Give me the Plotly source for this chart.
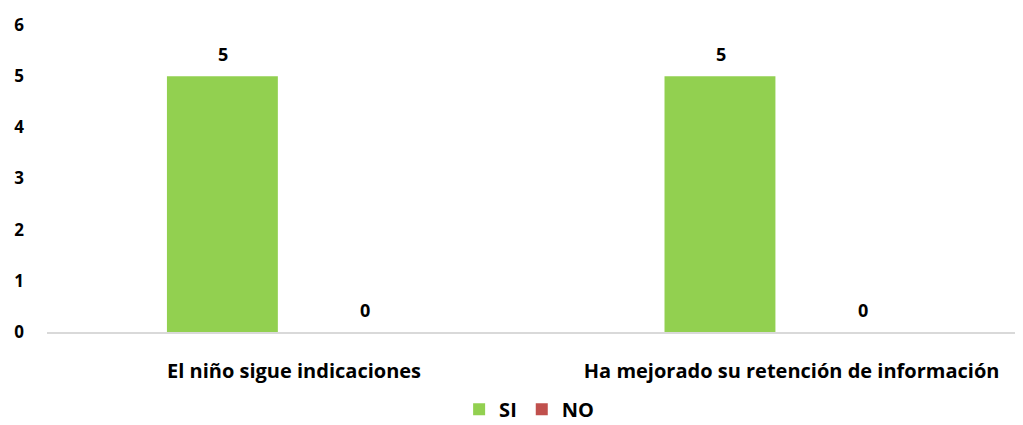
import plotly.graph_objects as go

categories = ["El niño sigue indicaciones", "Ha mejorado su retención de información"]
si_values = [5, 5]
no_values = [0, 0]
series_names = ["SI", "NO"]
colors = ["#92D050", "#C0504D"]
y_ticks = [0, 1, 2, 3, 4, 5, 6]

FONT = "Open Sans"

fig = go.Figure()
for name, vals, col in zip(series_names, [si_values, no_values], colors):
    fig.add_trace(go.Bar(name=name, x=categories, y=vals, marker_color=col,
                         marker_line_width=0))

# data labels
for i, cat in enumerate(categories):
    for vals, shift in [(si_values, -71), (no_values, 71)]:
        fig.add_annotation(x=cat, y=vals[i], xref="x", yref="y", text=str(vals[i]),
                           showarrow=False, xshift=shift, yshift=22,
                           font=dict(family=FONT, size=18, color="#000000", weight="bold"))

# page body has an 8px margin, so the figure is sized/offset to fit the 1023x425 window
fig.update_layout(
    width=1015, height=417,
    margin=dict(l=39, r=3, t=17, b=93, autoexpand=False),
    paper_bgcolor="white", plot_bgcolor="white",
    barmode="group", bargap=0.424, bargroupgap=0.226,
    font=dict(family=FONT, size=18, color="#000000", weight="bold"),
    showlegend=True,
    legend=dict(orientation="h", x=0.4955, xanchor="center", yref="paper",
                y=-0.252, yanchor="middle", font=dict(family=FONT, size=20, weight="bold"),
                itemwidth=30, tracegroupgap=0),
)
fig.update_xaxes(range=[-0.4965, 1.459], showgrid=False, showline=True, automargin=False,
                 linecolor="#D9D9D9", linewidth=1.5, ticks="", ticklabelstandoff=20,
                 tickfont=dict(family=FONT, size=20, weight="bold"))
fig.update_yaxes(range=[0, 6], tickvals=y_ticks, showgrid=False, showline=False,
                 zeroline=False, ticks="", ticklabelstandoff=22, automargin=False,
                 tickfont=dict(family=FONT, size=17, weight="bold"))

fig.write_html("out.html")
